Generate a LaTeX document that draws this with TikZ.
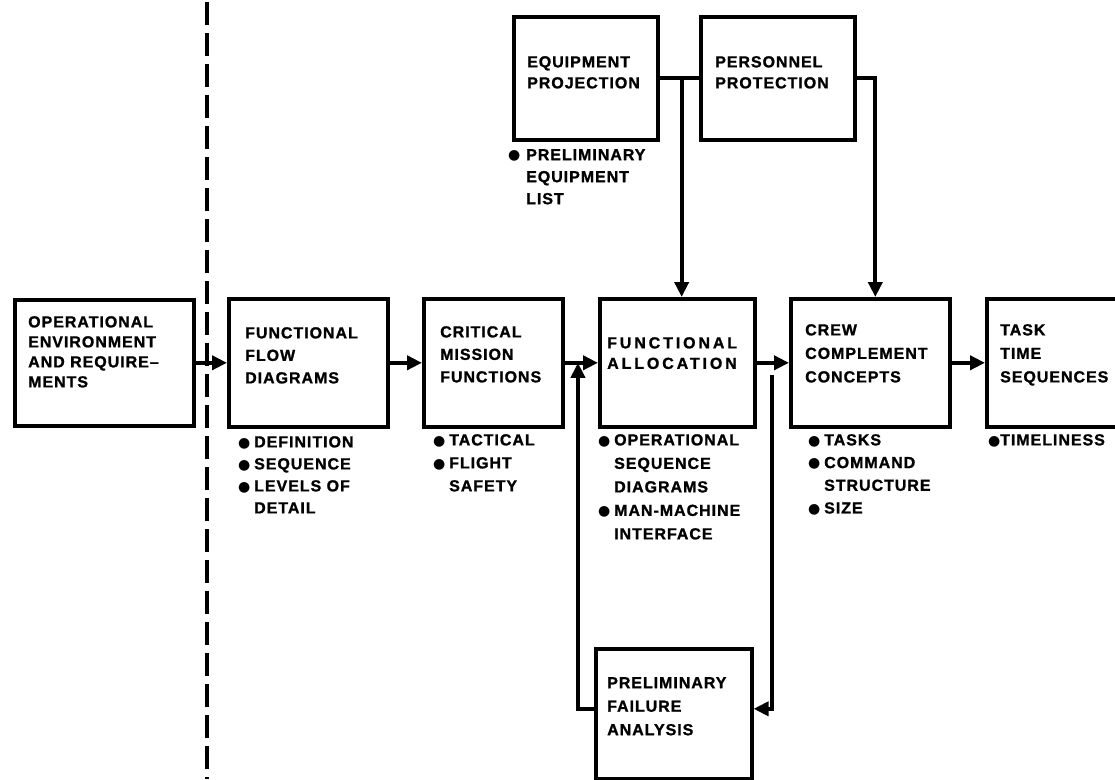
\documentclass[tikz,border=0pt]{standalone}
\usepackage{fontspec}
\setmainfont{Liberation Sans Bold}[LetterSpace=6, FakeBold=1.2]
\newfontfamily\symfont{DejaVu Sans}
\newfontfamily\wideface{Liberation Sans Bold}[LetterSpace=18, FakeBold=1.2]
\usetikzlibrary{arrows.meta}
\usetikzlibrary{calc}
\newcommand{\itm}[1][16pt]{\makebox[#1][l]{\raisebox{0.3pt}{\symfont\fontsize{14}{14}\selectfont ●}}}

\begin{document}
\begin{tikzpicture}[x=1pt, y=-1pt, box/.style={rectangle, draw, line width=3.6pt, inner sep=0pt, anchor=north west}, lbl/.style={anchor=north west, inner sep=0pt, align=left, font=\fontsize{16}{#1}\selectfont}, lbl/.default=22.5, arrow/.style={line width=4pt, -{Triangle[length=15pt,width=14pt]}}]
\useasboundingbox (0,0) rectangle (1115,779);
\clip (0,0) rectangle (1115,779);
% boundary
\coordinate (divtop) at (207,2);
\coordinate (divbot) at (207,779);
\draw [line width=3.8pt, dash pattern=on 23pt off 8pt] (divtop) -- (divbot);
% main chain
\node [box, minimum width=179pt, minimum height=126pt] (env) at (13,298) {};
\node [box, minimum width=159pt, minimum height=128pt] (flow) at (227,297) {};
\node [box, minimum width=139pt, minimum height=128pt] (crit) at (422,297) {};
\node [box, minimum width=155pt, minimum height=128pt] (alloc) at (598,297) {};
\node [box, minimum width=159pt, minimum height=128pt] (crew) at (789,297) {};
\node [box, minimum width=150pt, minimum height=128pt] (task) at (985,297) {};
% upper and lower boxes
\node [box, minimum width=144pt, minimum height=123pt] (equip) at (512,15) {};
\node [box, minimum width=154pt, minimum height=123pt] (person) at (699,15) {};
\node [box, minimum width=156pt, minimum height=130pt] (failure) at (594,647) {};
% box texts
\node [lbl=20] (envtxt) at (28,316) {OPERATIONAL\\ENVIRONMENT\\AND REQUIRE--\\MENTS};
\node [lbl] (flowtxt) at (245,327) {FUNCTIONAL\\FLOW\\DIAGRAMS};
\node [lbl] (crittxt) at (440,326) {CRITICAL\\MISSION\\FUNCTIONS};
\node [lbl=20.5] (alloctxt) at (607,337) {\wideface FUNCTIONAL\\\wideface ALLOCATION};
\node [lbl=23.5] (crewtxt) at (805,324) {CREW\\COMPLEMENT\\CONCEPTS};
\node [lbl=23.5] (tasktxt) at (1000,324) {TASK\\TIME\\SEQUENCES};
\node [lbl=21] (equiptxt) at (527,56) {EQUIPMENT\\PROJECTION};
\node [lbl=21] (persontxt) at (715,56) {PERSONNEL\\PROTECTION};
\node [lbl=23.5] (failtxt) at (607,677) {PRELIMINARY\\FAILURE\\ANALYSIS};
% notes under the boxes
\node [lbl=22] (equipnote) at (508,149) {\itm[18pt]PRELIMINARY\\\hspace*{18pt}EQUIPMENT\\\hspace*{18pt}LIST};
\node [lbl=22] (flownote) at (238,436) {\itm DEFINITION\\\itm SEQUENCE\\\itm LEVELS OF\\\hspace*{16pt}DETAIL};
\node [lbl=23] (critnote) at (433,434) {\itm TACTICAL\\\itm FLIGHT\\\hspace*{16pt}SAFETY};
\node [lbl=23.5] (allocnote) at (598,434) {\itm OPERATIONAL\\\hspace*{16pt}SEQUENCE\\\hspace*{16pt}DIAGRAMS\\\itm MAN-MACHINE\\\hspace*{16pt}INTERFACE};
\node [lbl=22.7] (crewnote) at (808,434) {\itm TASKS\\\itm COMMAND\\\hspace*{16pt}STRUCTURE\\\itm SIZE};
\node [lbl] (tasknote) at (988,434) {\itm[12pt]TIMELINESS};
% flow
\draw [arrow] (env.east) -- (flow.west);
\draw [arrow] (flow.east) -- (crit.west);
\draw [arrow] (crit.east) -- (alloc.west);
\draw [arrow] (alloc.east) -- (crew.west);
\draw [arrow] (crew.east) -- (task.west);
\draw [line width=4pt] (equip.east) -- (person.west);
\coordinate (tap) at ($(equip.east)!0.56!(person.west)$);
\draw [arrow] (tap) -- (tap |- alloc.north);
\draw [arrow] (person.east) -| ([xshift=5pt]crew.north);
% failure loop
\coordinate (merge) at ($(crit.east)!0.4!(alloc.west)$);
\draw [arrow] ([yshift=5pt]failure.west) -| (merge);
\coordinate (split) at ($(alloc.east)!0.47!(crew.west) + (0,12)$);
\draw [arrow] (split) |- ([yshift=5pt]failure.east);
\end{tikzpicture}
\end{document}
